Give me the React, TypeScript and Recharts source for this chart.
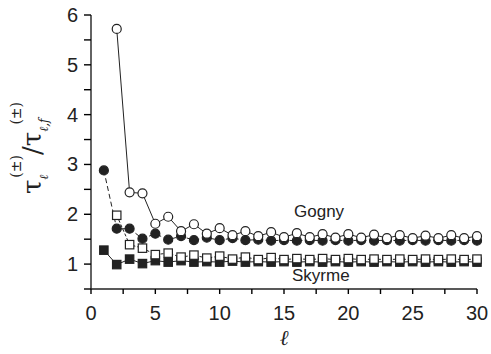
import { LineChart, Line, XAxis, YAxis, Customized } from "recharts";

const ells = Array.from({ length: 30 }, (_, i) => i + 1);

const gognyOpen = [null, 5.72, 2.44, 2.42, 1.81, 1.95, 1.66, 1.8, 1.61, 1.72, 1.58, 1.66, 1.56, 1.64, 1.54, 1.62, 1.54, 1.6, 1.53, 1.6, 1.53, 1.59, 1.52, 1.58, 1.52, 1.57, 1.52, 1.58, 1.52, 1.56];
const gognyFilled = [2.88, 1.71, 1.71, 1.51, 1.61, 1.49, 1.56, 1.48, 1.53, 1.48, 1.52, 1.48, 1.49, 1.47, 1.48, 1.47, 1.48, 1.47, 1.48, 1.47, 1.48, 1.47, 1.48, 1.47, 1.48, 1.47, 1.48, 1.47, 1.48, 1.47];
const skyrmeOpen = [null, 1.98, 1.39, 1.32, 1.19, 1.22, 1.14, 1.18, 1.12, 1.16, 1.1, 1.14, 1.09, 1.13, 1.09, 1.11, 1.09, 1.11, 1.09, 1.11, 1.09, 1.1, 1.09, 1.1, 1.09, 1.1, 1.09, 1.1, 1.09, 1.1];
const skyrmeFilled = [1.28, 0.99, 1.1, 1.01, 1.07, 1.04, 1.07, 1.04, 1.05, 1.04, 1.06, 1.04, 1.05, 1.04, 1.05, 1.04, 1.05, 1.04, 1.05, 1.04, 1.05, 1.04, 1.05, 1.04, 1.05, 1.04, 1.05, 1.04, 1.05, 1.04];

const xTicks = [0, 2.5, 5, 7.5, 10, 12.5, 15, 17.5, 20, 22.5, 25, 27.5, 30];
const yTicks = [0.5, 1, 1.5, 2, 2.5, 3, 3.5, 4, 4.5, 5, 5.5, 6];

const data = ells.map((l, i) => ({
  l,
  gognyOpen: gognyOpen[i],
  gognyFilled: gognyFilled[i],
  skyrmeOpen: skyrmeOpen[i],
  skyrmeFilled: skyrmeFilled[i],
}));

const FONT = "'Liberation Sans', Arial, sans-serif";
const INK = "#222";

// labels only on whole ticks; tick marks come from tickLine
const XTick = (props: any) => {
  const { x, y, payload } = props;
  if (payload.value % 5 !== 0) return <g />;
  return (
    <text x={x} y={y + 26} textAnchor="middle" fontSize={20} fontFamily={FONT} fill={INK}>
      {payload.value}
    </text>
  );
};

const YTick = (props: any) => {
  const { x, y, payload } = props;
  if (payload.value % 1 !== 0) return <g />;
  return (
    <text x={x - 6} y={y + 7} textAnchor="end" fontSize={20} fontFamily={FONT} fill={INK}>
      {payload.value}
    </text>
  );
};

const circleDot = (fill: string) => (props: any) => {
  const { cx, cy, index, value } = props;
  if (value == null || cx == null || cy == null) return <g key={`c-${index}`} />;
  return <circle key={`c-${index}`} cx={cx} cy={cy} r={4.5} fill={fill} stroke={INK} strokeWidth={1.2} />;
};

const squareDot = (fill: string) => (props: any) => {
  const { cx, cy, index, value } = props;
  if (value == null || cx == null || cy == null) return <g key={`s-${index}`} />;
  return <rect key={`s-${index}`} x={cx - 4.2} y={cy - 4.2} width={8.4} height={8.4} fill={fill} stroke={INK} strokeWidth={1.2} />;
};

const Labels = () => (
  <g fontFamily={FONT} fill={INK}>
    <text x={294} y={217} fontSize={17}>Gogny</text>
    <text x={292} y={281} fontSize={17}>Skyrme</text>
    <text x={284} y={345} fontSize={21} fontStyle="italic" fontFamily="'DejaVu Serif', serif" textAnchor="middle">ℓ</text>
    <g transform="translate(41, 148) rotate(-90)">
      <text x={0} y={0} textAnchor="middle" fontFamily="'DejaVu Serif', serif" fontSize={26} fill={INK}>
        <tspan>τ</tspan>
        <tspan fontSize={12} fontStyle="italic" dy={7}>ℓ</tspan>
        <tspan fontSize={14} dy={-27} dx={-3}>(±)</tspan>
        <tspan fontSize={26} dy={20}>/τ</tspan>
        <tspan fontSize={12} fontStyle="italic" dy={7}>ℓ,f</tspan>
        <tspan fontSize={14} dy={-27} dx={-6}>(±)</tspan>
      </text>
    </g>
  </g>
);

export default function App() {
  return (
    <div style={{ position: "absolute", left: 0, top: 0, background: "#fff" }}>
      <LineChart width={491} height={354} data={data} margin={{ top: 15, right: 14, bottom: 35, left: 0 }}>
        <XAxis
          dataKey="l"
          type="number"
          domain={[0, 30]}
          ticks={xTicks}
          interval={0}
          tickSize={5}
          tickMargin={0}
          tickLine={{ stroke: "#000", strokeWidth: 1.4 }}
          tick={<XTick />}
          height={30}
          axisLine={{ stroke: INK, strokeWidth: 1.4 }}
        />
        <YAxis
          type="number"
          domain={[0.5, 6]}
          ticks={yTicks}
          interval={0}
          tickSize={7}
          tickMargin={0}
          tickLine={{ stroke: "#000", strokeWidth: 1.4 }}
          tick={<YTick />}
          width={91}
          axisLine={{ stroke: INK, strokeWidth: 1.4 }}
        />
        <Line dataKey="skyrmeFilled" stroke={INK} strokeWidth={1} dot={squareDot(INK)} isAnimationActive={false} />
        <Line dataKey="skyrmeOpen" stroke={INK} strokeWidth={1} strokeDasharray="3 2" dot={squareDot("#fff")} isAnimationActive={false} />
        <Line dataKey="gognyFilled" stroke={INK} strokeWidth={1} strokeDasharray="5 3" dot={circleDot(INK)} isAnimationActive={false} />
        <Line dataKey="gognyOpen" stroke={INK} strokeWidth={1} dot={circleDot("#fff")} isAnimationActive={false} />
        <Customized component={Labels} />
      </LineChart>
    </div>
  );
}
